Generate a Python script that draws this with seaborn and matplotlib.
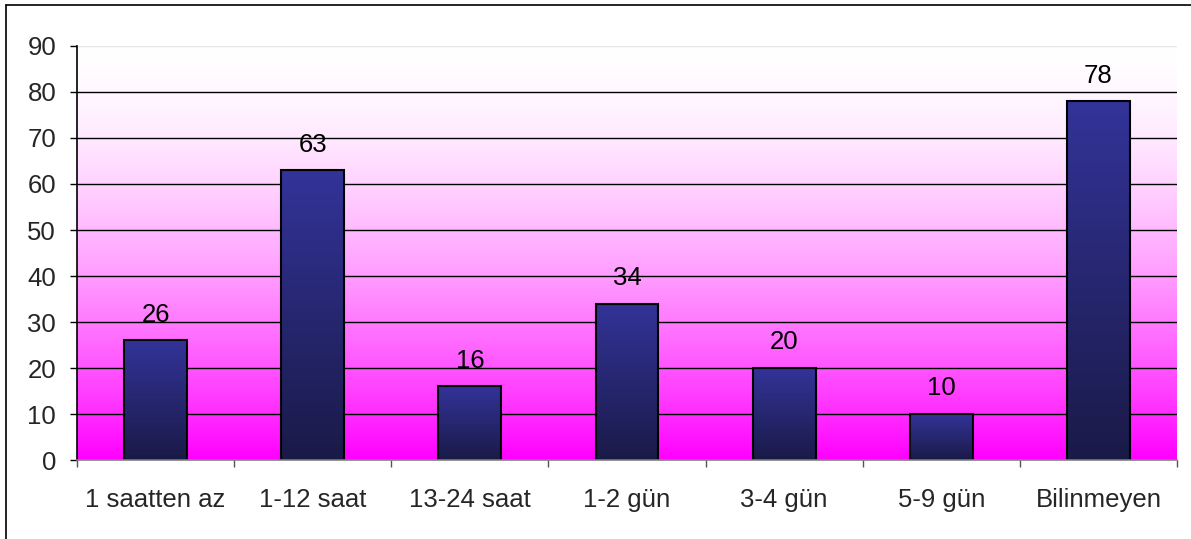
import numpy as np
import pandas as pd
import matplotlib
matplotlib.use("Agg")
import matplotlib.pyplot as plt
import seaborn as sns
from matplotlib.colors import LinearSegmentedColormap
from matplotlib.lines import Line2D

categories = ["1 saatten az", "1-12 saat", "13-24 saat", "1-2 gün", "3-4 gün", "5-9 gün", "Bilinmeyen"]
values = [26, 63, 16, 34, 20, 10, 78]
y_ticks = [0, 10, 20, 30, 40, 50, 60, 70, 80, 90]

sns.set_style("white")
plt.rcParams["font.family"] = ["Liberation Sans", "DejaVu Sans"]
FS = 18.5

df = pd.DataFrame({"sure": categories, "sayi": values})

fig = plt.figure(figsize=(11.91, 5.39), dpi=100)
ax = fig.add_axes([77 / 1191, 79 / 539, 1100 / 1191, 414 / 539])

sns.barplot(data=df, x="sure", y="sayi", ax=ax, width=0.4,
            color="#333399", edgecolor="black", linewidth=1.5, zorder=3)

n = len(categories)

# plot-area background: white at the top fading to magenta at the bottom
t = np.linspace(0, 1, 512) ** 1.6
bg = np.ones((512, 1, 3))
bg[:, 0, 1] = 1 - t
ax.imshow(bg, extent=[-0.5, n - 0.5, 0, 90], origin="upper", aspect="auto",
          zorder=0, interpolation="bilinear")

# per-bar vertical shading from blue at the top to dark navy at the bottom
bar_cmap = LinearSegmentedColormap.from_list("bar", ["#1a1a48", "#333399"])
grad = np.linspace(0, 1, 256).reshape(-1, 1)
for patch in ax.patches:
    x0, y0 = patch.get_x(), patch.get_y()
    w, h = patch.get_width(), patch.get_height()
    im = ax.imshow(grad, cmap=bar_cmap, origin="lower", aspect="auto",
                   extent=[x0, x0 + w, y0, y0 + h], zorder=3.1)
    im.set_clip_path(patch)
    patch.set_facecolor("none")
    patch.set_zorder(3.2)
ax.set_xlim(-0.5, n - 0.5)
ax.set_ylim(0, 90)

# gridlines
for v in y_ticks[1:-1]:
    ax.axhline(v, color="black", linewidth=1.0, zorder=1)
ax.axhline(90, color="#e6e6e6", linewidth=1.0, zorder=1)

# value labels
for i, v in enumerate(values):
    ax.annotate(f"{v}", (i, v), xytext=(0, 18.5), textcoords="offset points",
                ha="center", va="center", fontsize=FS, color="black", zorder=5)

ax.set_yticks(y_ticks)
ax.set_yticklabels([str(v) for v in y_ticks], fontsize=FS)
ax.set_xticks(range(n))
ax.set_xticklabels(categories, fontsize=FS)
ax.set_xlabel("")
ax.set_ylabel("")

ax.tick_params(axis="y", direction="out", length=5, width=1, color="black", pad=10, left=True)
ax.tick_params(axis="x", length=0, pad=20)
# category separator ticks on the x axis
ax.set_xticks(np.arange(-0.5, n, 1), minor=True)
ax.tick_params(axis="x", which="minor", direction="out", length=5, width=1, color="#555555", bottom=True)

for s in ["top", "right"]:
    ax.spines[s].set_visible(False)
ax.spines["left"].set_color("black")
ax.spines["left"].set_linewidth(1.2)
ax.spines["bottom"].set_color("#808080")
ax.spines["bottom"].set_linewidth(1.2)
ax.spines["left"].set_zorder(4)
ax.spines["bottom"].set_zorder(4)

# chart frame (left and top edges)
fig.add_artist(Line2D([6 / 1191, 6 / 1191], [0, 1 - 5 / 539], transform=fig.transFigure,
                      color="black", linewidth=1.2))
fig.add_artist(Line2D([6 / 1191, 1], [1 - 5 / 539, 1 - 5 / 539], transform=fig.transFigure,
                      color="black", linewidth=1.2))

fig.savefig("out.png", dpi=100)
